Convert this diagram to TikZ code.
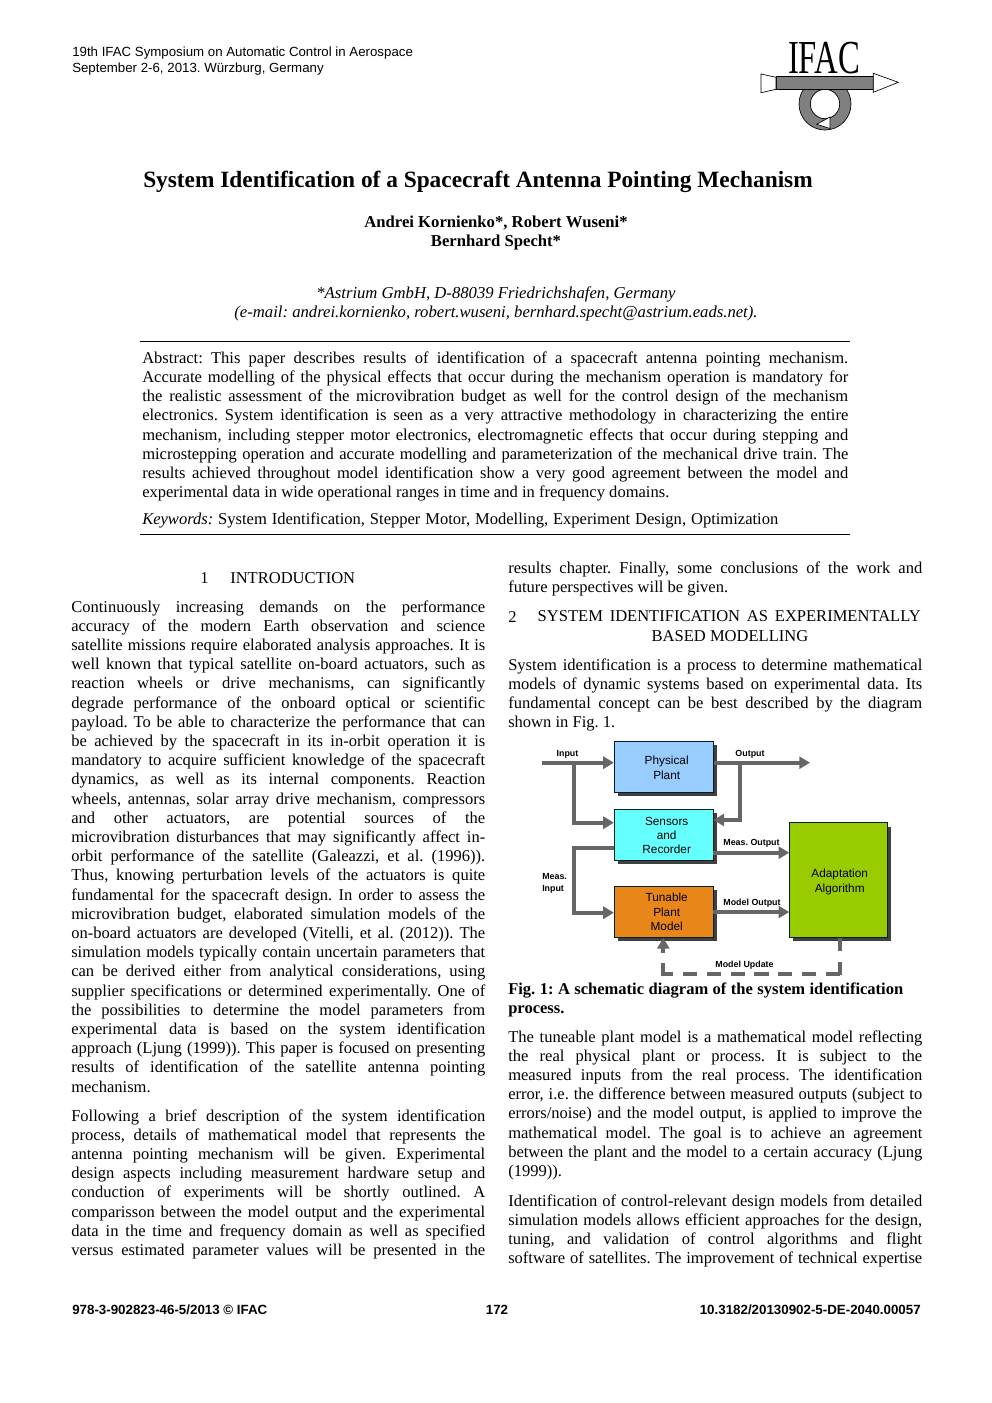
\documentclass[tikz,border=0pt]{standalone}
\usepackage{fontspec}
\setmainfont{Liberation Serif}
\setsansfont{Liberation Sans}
\usepackage{tikz}
\usetikzlibrary{
  arrows.meta,
  shadows
}
\definecolor{flowgray}{HTML}{666666}
\definecolor{plantblue}{HTML}{99CCFF}
\definecolor{sensorcyan}{HTML}{66FFFF}
\definecolor{modelorange}{HTML}{E8861A}
\definecolor{adaptgreen}{HTML}{99CC00}
\definecolor{logogray}{HTML}{808080}
\AtBeginDocument{\frenchspacing}
\newcommand{\jl}[1]{\hbox to\hsize{\strut\spaceskip=.25em plus .6em minus .12em #1}}
\newcommand{\nl}[1]{\hbox{\strut\spaceskip=.25em plus .6em minus .12em #1}}
\newcommand{\wl}[2]{\hbox to #1{\strut\spaceskip=.25em plus .6em minus .12em #2}}
\newcommand{\bl}[1]{\hspace*{4.5pt}#1}
\newcommand{\bd}[2][4.5pt]{\hspace*{#1}\raisebox{-1.4pt}[7pt][2pt]{#2}}
\tikzset{
  x=0.75pt, y=-0.75pt,
  column/.style={anchor=north west, inner sep=0pt, text width=310.5pt,
    font=\fontsize{12.4}{14.4}\selectfont},
  wide column/.style={column, text width=529.5pt},
  line/.style={inner sep=0pt, font=\fontsize{12.4}{14.4}\selectfont},
  header/.style={anchor=west, inner sep=0pt, font=\sffamily\fontsize{9.95}{12}\selectfont},
  footer/.style={inner sep=0pt, font=\sffamily\bfseries\fontsize{10}{12}\selectfont},
  block/.style={draw=black!75!teal, line width=0.7pt, align=center, inner sep=0pt,
    minimum width=74pt, minimum height=38.2pt,
    font=\sffamily\fontsize{8.85}{10.7}\selectfont,
    drop shadow={shadow xshift=2.8pt, shadow yshift=-2.8pt, opacity=1, fill=black!75}},
  flow/.style={draw=flowgray, line width=2.8pt, -{Triangle[length=8pt,width=9pt]}},
  update/.style={flow, -},
  flabel/.style={inner sep=0pt, align=left, font=\sffamily\bfseries\fontsize{6.65}{8.6}\selectfont},
}

\begin{document}
\begin{tikzpicture}
\useasboundingbox[fill=white] (0,0) rectangle (992,1403);

% page head
\node[header] (conf) at (72,53) {19th IFAC Symposium on Automatic Control in Aerospace};
\node[header] (date) at (72,69) {September 2-6, 2013. Würzburg, Germany};

% logo
\fill[logogray, draw=black, line width=0.5pt, even odd rule] (825,104) circle (19.5pt) (825,104) circle (11pt);
\draw[fill=logogray, line width=0.5pt] (776,76.7) rectangle (873.3,89.3);
\draw[fill=white, line width=0.5pt] (816.7,124.3) -- (830,117) -- (830,128.5) -- cycle;
\draw[fill=white, line width=0.5pt] (761,74) -- (776,77.3) -- (776,89.3) -- (761,92.7) -- cycle;
\draw[fill=white, line width=0.5pt] (873.3,73.3) -- (898.3,82.3) -- (873.3,92.3) -- cycle;
\node[inner sep=0pt, font=\fontsize{35.5}{35}\selectfont] (ifac) at (824,58) {\scalebox{.69}[1]{IFAC}};

% title block
\node[inner sep=0pt, font=\bfseries\fontsize{17.5}{20}\selectfont] (title) at (478,182) {System Identification of a Spacecraft Antenna Pointing Mechanism};
\node[line, font=\bfseries\fontsize{12.5}{14.33}\selectfont] (authorA) at (496,223) {Andrei Kornienko*, Robert Wuseni*};
\node[line, font=\bfseries\fontsize{12.5}{14.33}\selectfont] (authorB) at (496,242) {Bernhard Specht*};
\node[line, font=\itshape\fontsize{12.5}{14.33}\selectfont] (affilA) at (496,294) {*Astrium GmbH, D-88039 Friedrichshafen, Germany};
\node[line, font=\itshape\fontsize{12.5}{14.33}\selectfont] (affilB) at (496,313) {(e-mail: andrei.kornienko, robert.wuseni, bernhard.specht@astrium.eads.net).};

\draw[line width=0.6pt] (140,341) -- (850,341);
\draw[line width=0.6pt] (140,534) -- (850,534);

\node[wide column] (abstract) at (142,349.6) {
\jl{Abstract:\ This paper describes results of identification of a spacecraft antenna pointing mechanism.}
\jl{Accurate modelling of the physical effects that occur during the mechanism operation is mandatory for}
\jl{the realistic assessment of the microvibration budget as well for the control design of the mechanism}
\jl{electronics. System identification is seen as a very attractive methodology in characterizing the entire}
\jl{mechanism, including stepper motor electronics, electromagnetic effects that occur during stepping and}
\jl{microstepping operation and accurate modelling and parameterization of the mechanical drive train. The}
\jl{results achieved throughout model identification show a very good agreement between the model and}
\nl{experimental data in wide operational ranges in time and in frequency domains.}
};
\node[wide column] (keywords) at (142,510.8) {
\wl{477pt}{\textit{Keywords:} System Identification, Stepper Motor, Modelling, Experiment Design, Optimization}
};

% left column
\node[line, anchor=west] (secAnum) at (200,577.6) {1};
\node[line, anchor=west] (secAname) at (230,577.6) {INTRODUCTION};
\node[column] (parA) at (71,598.4) {
\jl{Continuously increasing demands on the performance}
\jl{accuracy of the modern Earth observation and science}
\jl{satellite missions require elaborated analysis approaches. It is}
\jl{well known that typical satellite on-board actuators, such as}
\jl{reaction wheels or drive mechanisms, can significantly}
\jl{degrade performance of the onboard optical or scientific}
\jl{payload. To be able to characterize the performance that can}
\jl{be achieved by the spacecraft in its in-orbit operation it is}
\jl{mandatory to acquire sufficient knowledge of the spacecraft}
\jl{dynamics, as well as its internal components. Reaction}
\jl{wheels, antennas, solar array drive mechanism, compressors}
\jl{and other actuators, are potential sources of the}
\jl{microvibration disturbances that may significantly affect in-}
\jl{orbit performance of the satellite (Galeazzi, et al. (1996)).}
\jl{Thus, knowing perturbation levels of the actuators is quite}
\jl{fundamental for the spacecraft design. In order to assess the}
\jl{microvibration budget, elaborated simulation models of the}
\jl{on-board actuators are developed (Vitelli, et al. (2012)). The}
\jl{simulation models typically contain uncertain parameters that}
\jl{can be derived either from analytical considerations, using}
\jl{supplier specifications or determined experimentally. One of}
\jl{the possibilities to determine the model parameters from}
\jl{experimental data is based on the system identification}
\jl{approach (Ljung (1999)). This paper is focused on presenting}
\jl{results of identification of the satellite antenna pointing}
\nl{mechanism.}
};
\node[column] (parB) at (71,1107.4) {
\jl{Following a brief description of the system identification}
\jl{process, details of mathematical model that represents the}
\jl{antenna pointing mechanism will be given. Experimental}
\jl{design aspects including measurement hardware setup and}
\jl{conduction of experiments will be shortly outlined. A}
\jl{comparisson between the model output and the experimental}
\jl{data in the time and frequency domain as well as specified}
\jl{versus estimated parameter values will be presented in the}
};

% right column
\node[column] (parC) at (508,559.4) {
\jl{results chapter. Finally, some conclusions of the work and}
\nl{future perspectives will be given.}
};
\node[line, anchor=west] (secBnum) at (508,616.6) {2};
\node[line, anchor=east] (secBnameA) at (921,618) {\wl{287.25pt}{SYSTEM IDENTIFICATION AS EXPERIMENTALLY}};
\node[line] (secBnameB) at (730,636) {BASED MODELLING};
\node[column] (parD) at (508,656.4) {
\jl{System identification is a process to determine mathematical}
\jl{models of dynamic systems based on experimental data. Its}
\jl{fundamental concept can be best described by the diagram}
\nl{shown in Fig. 1.}
};

% schematic
\node[block, fill=plantblue] (plant) at (663.7,766.8) {\bd{Physical}\\\bd{Plant}};
\node[block, fill=sensorcyan] (sensors) at (663.7,835.2) {\bl{Sensors}\\\bl{and}\\\bl{Recorder}};
\node[block, fill=modelorange] (model) at (663.7,912) {\bl{Tunable}\\\bl{Plant}\\\bl{Model}};
\node[block, fill=adaptgreen, minimum width=73.2pt, minimum height=85.7pt] (adapt) at (838.5,879.9) {\bd[1.8pt]{Adaptation}\\\bd[1.8pt]{Algorithm}};

\coordinate (inStart) at (542,762.7);
\coordinate (outEnd) at (810,762.7);
\coordinate (inBranch) at (574,762.7);
\coordinate (inDrop) at (574,822.7);
\coordinate (outBranch) at (740,762.7);
\coordinate (outDrop) at (740,820);
\coordinate (measOut) at (574,847.7);
\coordinate (measIn) at (574,912.7);
\coordinate (measRight) at (713,852.7);
\coordinate (modelRight) at (713,912);
\coordinate (updA) at (840,974);
\coordinate (updB) at (663.3,974);

\draw[flow] (inStart) -- (inStart -| plant.west);
\draw[flow] (inStart -| plant.east) -- (outEnd);
\draw[flow] (inBranch) -- (inDrop) -- (inDrop -| sensors.west);
\draw[flow] (outBranch) -- (outDrop) -- (outDrop -| sensors.east);
\draw[flow] (measOut -| sensors.west) -- (measOut) -- (measIn) -- (measIn -| model.west);
\draw[flow] (measRight) -- (measRight -| adapt.west);
\draw[flow] (modelRight) -- (modelRight -| adapt.west);
\draw[update, dash pattern=on 10pt off 8pt, shorten >=-1.4pt] (updA |- adapt.south) -- (updA);
\draw[update, dash pattern=on 10.7pt off 7.15pt] (updA) -- (updB);
\draw[flow, dash pattern=on 9.75pt off 7.5pt, shorten <=-1.4pt] (updB) -- (updB |- model.south);

\node[flabel] (lblInput) at (567.5,754.5) {Input};
\node[flabel] (lblOutput) at (750,754.5) {Output};
\node[flabel] (lblMeasOut) at (751.5,843.5) {Meas. Output};
\node[flabel] (lblModelOut) at (752,903.5) {Model Output};
\node[flabel, anchor=west] (lblMeasIn) at (542,883.5) {Meas.\\Input};
\node[flabel] (lblUpdate) at (744.5,965.5) {Model Update};

\node[column, font=\bfseries\fontsize{12.4}{14.4}\selectfont] (caption) at (508,980.4) {
\wl{296.25pt}{Fig. 1: A schematic diagram of the system identification}
\nl{process.}
};

\node[column] (parE) at (508,1028.4) {
\jl{The tuneable plant model is a mathematical model reflecting}
\jl{the real physical plant or process. It is subject to the}
\jl{measured inputs from the real process. The identification}
\jl{error, i.e. the difference between measured outputs (subject to}
\jl{errors/noise) and the model output, is applied to improve the}
\jl{mathematical model. The goal is to achieve an agreement}
\jl{between the plant and the model to a certain accuracy (Ljung}
\nl{(1999)).}
};
\node[column] (parF) at (508,1192.4) {
\jl{Identification of control-relevant design models from detailed}
\jl{simulation models allows efficient approaches for the design,}
\jl{tuning, and validation of control algorithms and flight}
\jl{software of satellites. The improvement of technical expertise}
};

% page foot
\node[footer, anchor=west] (isbn) at (72,1310) {978-3-902823-46-5/2013 © IFAC};
\node[footer] (pageno) at (497,1310) {172};
\node[footer, anchor=east] (doi) at (921,1310) {10.3182/20130902-5-DE-2040.00057};
\end{tikzpicture}
\end{document}
